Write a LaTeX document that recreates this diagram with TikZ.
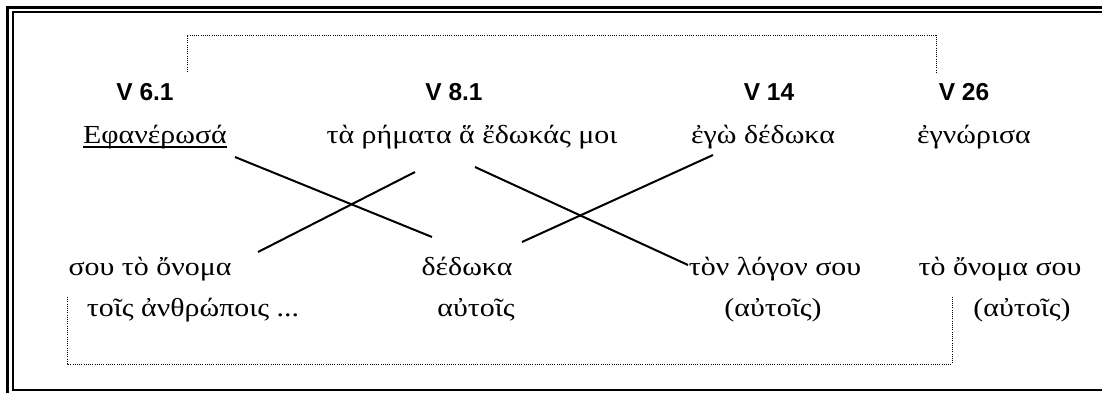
\documentclass[tikz,border=0pt]{standalone}
\usepackage{fontspec}
\setmainfont{Liberation Serif}[FakeStretch=1.15]
\newfontfamily\labfont{Liberation Sans}
\usetikzlibrary{calc}
\begin{document}
\begin{tikzpicture}[x=1pt,y=-1pt,
  gk/.style={font=\fontsize{26}{30}\selectfont, inner sep=0pt, anchor=base},
  vlab/.style={font=\labfont\bfseries\fontsize{24.5}{28}\selectfont, inner sep=0pt, anchor=base},
  link/.style={line width=2pt},
  dots/.style={line width=1pt, dash pattern=on 1pt off 1.2pt}]
\useasboundingbox[fill=white] (0,0) rectangle (1102,392);
% frame
\draw[line width=3pt] (7.5,400) -- (7.5,7) -- (1110,7);
\draw[line width=2pt] (13,12) rectangle (1110,390);
% verse labels
\node[vlab] (v1) at (145,100) {V 6.1};
\node[vlab] (v2) at (454,100) {V 8.1};
\node[vlab] (v3) at (769,100) {V 14};
\node[vlab] (v4) at (964,100) {V 26};
% first row
\node[gk] (e1) at (155,143) {Εφανέρωσά};
\node[gk] (e2) at (472,143) {τὰ ρήματα ἅ ἔδωκάς μοι};
\node[gk] (e3) at (763,143) {ἐγὼ δέδωκα};
\node[gk] (e4) at (974,143) {ἐγνώρισα};
\draw[line width=1.2pt] ($(e1.base west)+(0,4)$) -- ($(e1.base east)+(0,4)$);
% second row
\node[gk] (f1) at (150,275) {σου τὸ ὄνομα};
\node[gk] (f2) at (467,275) {δέδωκα};
\node[gk] (f3) at (775,275) {τὸν λόγον σου};
\node[gk] (f4) at (1000,275) {τὸ ὄνομα σου};
% third row
\node[gk] (g1) at (193,316) {τοῖς ἀνθρώποις ...};
\node[gk] (g2) at (476,316) {αὐτοῖς};
\node[gk] (g3) at (773,316) {(αὐτοῖς)};
\node[gk] (g4) at (1022,316) {(αὐτοῖς)};
% connector ends
\coordinate (e1o) at (235,157);
\coordinate (f2a) at (432,237);
\coordinate (e2a) at (415,172);
\coordinate (f1o) at (258,252);
\coordinate (e2b) at (475,167);
\coordinate (f3o) at (688,265);
\coordinate (e3o) at (713,155);
\coordinate (f2b) at (522,242);
\draw[link] (e1o) -- (f2a);
\draw[link] (e2a) -- (f1o);
\draw[link] (e2b) -- (f3o);
\draw[link] (e3o) -- (f2b);
% dotted brackets
\coordinate (ta) at (187,72);
\coordinate (tb) at (936,72);
\draw[dots] (ta) -- (ta |- 0,35) -- (tb |- 0,35) -- (tb);
\coordinate (ba) at (67,297);
\coordinate (bb) at (952,297);
\draw[dots] (ba) -- (ba |- 0,364) -- (bb |- 0,364) -- (bb);
\end{tikzpicture}
\end{document}
